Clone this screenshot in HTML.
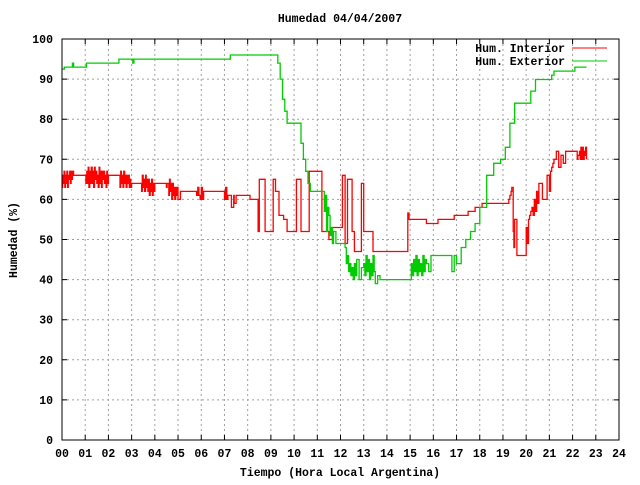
<!DOCTYPE html>
<html><head><meta charset="utf-8"><style>
body{margin:0;background:#fff}
svg text{font-family:"Liberation Mono","DejaVu Sans Mono",monospace;font-size:11.5px;font-weight:bold;fill:#000}
</style></head><body>
<svg id="chart" width="640" height="480" viewBox="0 0 640 480" xmlns="http://www.w3.org/2000/svg">
<rect width="640" height="480" fill="#fff"/>
<g id="grid"></g>
<g id="ticks"></g>
<g id="series"></g>
<rect x="62" y="39" width="557" height="401" fill="none" stroke="#000" stroke-width="1"/>
<text x="340" y="22" text-anchor="middle">Humedad 04/04/2007</text>
<text x="340" y="476" text-anchor="middle">Tiempo (Hora Local Argentina)</text>
<text transform="translate(17,240) rotate(-90)" text-anchor="middle">Humedad (%)</text>
<g>
<text x="565" y="52" text-anchor="end">Hum. Interior</text>
<line x1="572" y1="48" x2="607" y2="48" stroke="#f00" stroke-width="1"/>
<text x="565" y="65" text-anchor="end">Hum. Exterior</text>
<line x1="572" y1="61" x2="607" y2="61" stroke="#0c0" stroke-width="1"/>
</g>
</svg>
<script>
const xTicks=["00","01","02","03","04","05","06","07","08","09","10","11","12","13","14","15","16","17","18","19","20","21","22","23","24"];
const yTicks=[0,10,20,30,40,50,60,70,80,90,100];
const interiorH=[0,0.03,0.06,0.09,0.12,0.15,0.18,0.21,0.24,0.27,0.3,0.33,0.36,0.39,0.42,0.45,0.5,1.03,1.07,1.1,1.13,1.16,1.2,1.23,1.26,1.3,1.33,1.36,1.4,1.43,1.46,1.5,1.53,1.56,1.6,1.63,1.66,1.7,1.73,1.76,1.8,1.83,1.86,1.9,1.93,1.96,2.0,2.5,2.53,2.56,2.6,2.63,2.66,2.7,2.73,2.76,2.8,2.83,2.86,2.9,2.93,2.96,3.0,3.4,3.43,3.46,3.5,3.53,3.56,3.6,3.63,3.66,3.7,3.73,3.76,3.8,3.83,3.86,3.9,3.93,3.96,4.0,4.5,4.53,4.56,4.6,4.63,4.66,4.7,4.73,4.76,4.8,4.83,4.86,4.9,4.93,4.96,5.0,5.1,5.8,5.85,5.9,5.95,6.0,6.05,6.1,7.0,7.05,7.1,7.15,7.2,7.3,7.4,7.42,7.5,8.1,8.3,8.45,8.5,8.6,8.75,9.1,9.2,9.35,9.55,9.7,10.1,10.3,10.65,10.95,11.2,11.5,11.65,12.08,12.2,12.3,12.45,12.5,12.6,12.9,13.0,13.1,13.25,13.4,14.9,14.95,15.7,15.75,16.2,16.55,16.9,17.3,17.5,17.8,18.1,19.25,19.3,19.35,19.38,19.41,19.44,19.47,19.5,19.6,20.0,20.05,20.1,20.15,20.2,20.25,20.3,20.35,20.4,20.45,20.5,20.55,20.7,20.9,21.0,21.05,21.1,21.15,21.2,21.3,21.4,21.5,21.6,21.7,22.2,22.23,22.26,22.3,22.33,22.36,22.4,22.43,22.46,22.5,22.53,22.56,22.6];
const interiorV=[63,66,64,67,63,66,64,67,63,66,65,67,64,67,65,67,66,64,67,64,68,63,67,64,68,64,67,63,68,65,67,64,66,63,68,64,67,63,67,65,67,64,66,63,67,64,66,63,67,64,66,63,67,64,66,63,66,64,66,63,65,63,64,64,62,66,63,65,62,66,63,65,62,65,61,64,62,65,61,64,62,64,63,64,64,61,65,62,64,60,64,61,63,60,63,61,63,60,62,61,63,61,60,63,60,62,60,63,60,61,61,58,61,59,61,60,60,52,65,65,52,65,62,56,55,52,65,52,67,67,52,50,53,66,49,65,65,52,47,64,52,52,52,47,56.6,55,54,54,55,55,56,56,57,58,59,60,61,62,63,63,52,48,55,46,53,49,55,56,57,58,56,60,57,62,59,64,60,66,62,67,68,69,70,72,68,71,69,72,70,71,71,72,70,73,70,73,70,72,71,73,70,72,70,73,70,72];
const exteriorH=[0,0.1,0.4,0.45,0.5,1.0,1.05,1.1,2.4,2.45,3.0,3.05,3.1,7.2,7.25,9.2,9.3,9.4,9.5,9.6,9.7,10.2,10.3,10.4,10.5,10.6,10.7,10.8,11.2,11.3,11.35,11.4,11.45,11.5,11.55,11.6,11.65,11.7,11.8,12.2,12.25,12.3,12.35,12.4,12.45,12.5,12.55,12.6,12.65,12.7,12.8,12.9,13.0,13.05,13.1,13.15,13.2,13.25,13.3,13.35,13.4,13.45,13.5,13.6,13.7,15.0,15.05,15.1,15.15,15.2,15.25,15.3,15.35,15.4,15.45,15.5,15.55,15.6,15.65,15.7,15.8,15.9,16.7,16.8,16.9,17.0,17.2,17.4,17.6,17.8,18.0,18.3,18.6,18.9,19.1,19.3,19.5,20.0,20.2,20.4,21.1,21.2,22.1,22.6];
const exteriorV=[92.5,93,93,94,93,93,94,94,94,95,95,94,95,95,96,96,94,90,85,82,79,79,74,70,67,64,62,62,62,57,61,52,58,56,51,53,49,52,49,48,44,46,42,44,41,43,40,44,41,45,40,43,44,41,46,42,45,40,44,41,46,42,39,41,40,40,44,41,45,42,46,41,45,42,44,41,46,42,45,44,42,46,46,42,46,44,48,50,52,54,58,66,69,70,73,79,84,84,87,89.9,91,92,93,93];
const X0=62,X1=619,Y0=440,Y1=39;
const xs=h=>X0+h/24*(X1-X0);
const ys=v=>Y0-v/100*(Y0-Y1);
const NS="http://www.w3.org/2000/svg";
function mk(tag,attrs,parent){const e=document.createElementNS(NS,tag);for(const k in attrs)e.setAttribute(k,attrs[k]);parent.appendChild(e);return e;}
const grid=document.getElementById('grid'),ticks=document.getElementById('ticks'),series=document.getElementById('series');
xTicks.forEach((t,i)=>{const x=xs(i);
 if(i>0&&i<24){const g=mk('line',{x1:x,y1:Y1,x2:x,y2:Y0,stroke:'#a0a0a0','stroke-dasharray':'2,3'},grid);
 }
 const tk=mk('path',{d:`M${x},${Y0}v-5M${x},${Y1}v5`,stroke:'#000'},ticks);
 
 const tx=mk('text',{x:x,y:457,'text-anchor':'middle'},ticks);tx.textContent=t;
 });
yTicks.forEach(v=>{const y=ys(v);
 if(v>0&&v<100){const g=mk('line',{x1:X0,y1:y,x2:X1,y2:y,stroke:'#a0a0a0','stroke-dasharray':'2,3'},grid);
 }
 const tk=mk('path',{d:`M${X0},${y}h5M${X1},${y}h-5`,stroke:'#000'},ticks);
 
 const tx=mk('text',{x:53,y:y+4,'text-anchor':'end'},ticks);tx.textContent=v;
 });
function line(H,V,color,name){
 let d='';
 H.forEach((h,i)=>{const x=xs(h).toFixed(1),y=ys(V[i]).toFixed(1);
  if(i===0)d+='M'+x+','+y;else d+='H'+x+'V'+y;});
 const p=mk('path',{d:d,fill:'none',stroke:color,'stroke-width':1.3},series);
 }
line(interiorH,interiorV,'#f00','interior-humidity-line');
line(exteriorH,exteriorV,'#0c0','exterior-humidity-line');
</script>
</body></html>
